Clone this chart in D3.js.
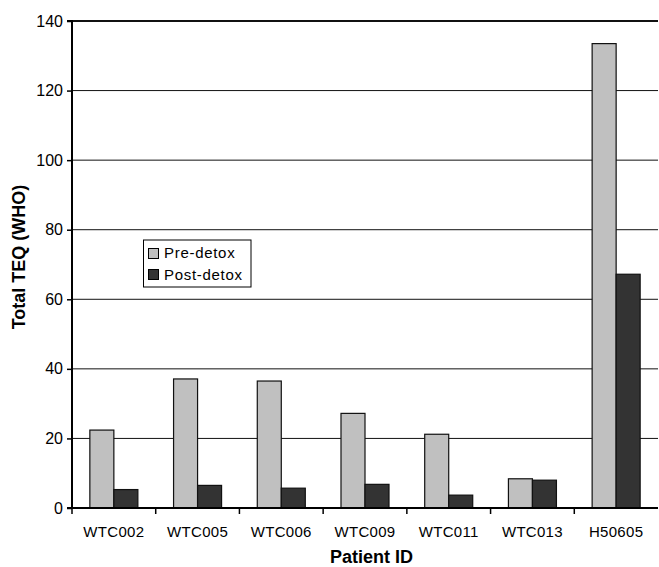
<!DOCTYPE html>
<html><head><meta charset="utf-8">
<script src="https://cdn.jsdelivr.net/npm/d3@7"></script>
<style>body{margin:0;background:#fff}svg{display:block}text{font-family:"Liberation Sans",Arial,sans-serif}</style>
</head><body><svg id="c" width="659" height="567"></svg>
<script>
const categories=["WTC002","WTC005","WTC006","WTC009","WTC011","WTC013","H50605"];
const series=["Pre-detox","Post-detox"];
const preDetox=[22.4,37.1,36.5,27.2,21.2,8.4,133.5];
const postDetox=[5.3,6.5,5.7,6.8,3.7,8.0,67.2];
const yTicks=[0,20,40,60,80,100,120,140];
const colors=["#c0c0c0","#333333"];

const svg=d3.select("#c");
const L=72,R=658,T=21,B=508;
const x0=d3.scaleBand().domain(categories).range([L,R]).paddingInner(0.4265).paddingOuter(0.21325);
const x1=d3.scaleBand().domain(series).range([0,x0.bandwidth()]);
const y=d3.scaleLinear().domain([0,140]).range([B,T]);
const data=categories.map((c,i)=>({cat:c,vals:[preDetox[i],postDetox[i]]}));

// gridlines
svg.append("g").selectAll("line").data(yTicks.filter(d=>d>0)).join("line")
 .attr("x1",L).attr("x2",R).attr("y1",d=>y(d)).attr("y2",d=>y(d))
 .attr("stroke","#111").attr("stroke-width",d=>d===140?2:1);

// bars
svg.append("g").selectAll("g").data(data).join("g")
 .attr("transform",d=>`translate(${x0(d.cat)},0)`)
 .selectAll("rect").data(d=>d.vals.map((v,j)=>({s:series[j],v,j}))).join("rect")
 .attr("x",d=>x1(d.s)).attr("width",x1.bandwidth())
 .attr("y",d=>y(d.v)).attr("height",d=>B-y(d.v))
 .attr("fill",d=>colors[d.j]).attr("stroke","#111").attr("stroke-width",1.2);

// y axis
const ya=svg.append("g").attr("transform",`translate(${L},0)`)
 .call(d3.axisLeft(y).tickValues(yTicks).tickSize(5).tickPadding(4));
ya.attr("font-family",null);
ya.select(".domain").attr("stroke","#000").attr("stroke-width",2).attr("d",`M-5,${T}H0V${B}H-5`);
ya.selectAll(".tick line").attr("stroke","#000").attr("stroke-width",1.5);
ya.selectAll("text").attr("font-size",16).attr("fill","#000");

// x axis
const xa=svg.append("g").attr("transform",`translate(0,${B})`);
xa.append("line").attr("x1",L).attr("x2",R).attr("stroke","#000").attr("stroke-width",2);
const step=x0.step();
const bounds=d3.range(categories.length).map(i=>L+i*step);
xa.selectAll(".tk").data(bounds).join("line").attr("class","tk")
 .attr("x1",d=>d).attr("x2",d=>d).attr("y1",0).attr("y2",6).attr("stroke","#000").attr("stroke-width",1.5);
xa.selectAll(".lb").data(categories).join("text").attr("class","lb")
 .attr("x",d=>x0(d)+x0.bandwidth()/2).attr("y",29).attr("text-anchor","middle")
 .attr("font-size",15).attr("letter-spacing",0.3).attr("fill","#000").text(d=>d);

// titles
svg.append("text").attr("x",371.5).attr("y",563).attr("text-anchor","middle")
 .attr("font-size",18).attr("font-weight","bold").text("Patient ID");
svg.append("text").attr("transform",`translate(24.5,257) rotate(-90)`).attr("text-anchor","middle")
 .attr("font-size",18).attr("font-weight","bold").text("Total TEQ (WHO)");

// legend
const lg=svg.append("g").attr("transform","translate(143.5,240)");
lg.append("rect").attr("width",107.5).attr("height",47).attr("fill","#fff").attr("stroke","#000").attr("stroke-width",1);
series.forEach((s,i)=>{
 lg.append("rect").attr("x",5).attr("y",8.5+i*21).attr("width",10).attr("height",10)
  .attr("fill",colors[i]).attr("stroke","#000").attr("stroke-width",1);
 lg.append("text").attr("x",20.5).attr("y",18+i*21.5).attr("font-size",15).attr("letter-spacing",0.7).attr("fill","#000").text(s);
});
</script></body></html>
